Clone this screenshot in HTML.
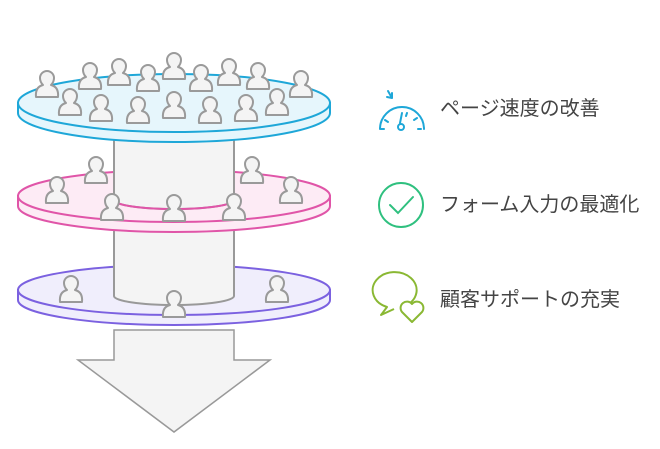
<!DOCTYPE html><html><head><meta charset="utf-8"><style>body{margin:0;background:#fff}svg{display:block}</style></head><body>
<svg width="660" height="449" viewBox="0 0 660 449" xmlns="http://www.w3.org/2000/svg">
<defs>
<g id="p"><path d="M-11,25 Q-12,15 -4,13 Q-7,10 -7,6 A7,7 0 1 1 7,6 Q7,10 4,13 Q12,15 11,25 Z" fill="#f4f4f4" stroke="#9a9a9a" stroke-width="2" stroke-linejoin="round"/></g>
</defs>
<path d="M114,330 L114,360 L78,360 L174,432 L270,360 L234,360 L234,330 Z" fill="#f4f4f4" stroke="#999" stroke-width="1.5"/>
<path d="M18,290 L18,300 A156,25 0 0 0 330,300 L330,290 Z" fill="#f0eefc" stroke="#7b61e0" stroke-width="2"/>
<ellipse cx="174" cy="290" rx="156" ry="25" fill="#f0eefc" stroke="#7b61e0" stroke-width="2"/>
<path d="M114,225 L114,296 A60,9 0 0 0 234,296 L234,225 Z" fill="#f4f4f4" stroke="#999" stroke-width="2"/>
<path d="M18,196 L18,206 A156,26 0 0 0 330,206 L330,196 Z" fill="#fdebf5" stroke="#e055a8" stroke-width="2"/>
<ellipse cx="174" cy="196" rx="156" ry="26" fill="#fdebf5" stroke="#e055a8" stroke-width="2"/>
<path d="M114,130 L114,200 A60,9 0 0 0 234,200 L234,130 Z" fill="#f4f4f4" stroke="#999" stroke-width="2"/>
<path d="M114,200 A60,9 0 0 0 234,200" fill="none" stroke="#e055a8" stroke-width="2"/>
<path d="M18,103 L18,113 A156,29 0 0 0 330,113 L330,103 Z" fill="#e6f6fc" stroke="#1ea7d8" stroke-width="2"/>
<ellipse cx="174" cy="103" rx="156" ry="29" fill="#e6f6fc" stroke="#1ea7d8" stroke-width="2"/>
<use href="#p" x="47" y="72"/><use href="#p" x="90" y="64"/><use href="#p" x="119" y="60"/><use href="#p" x="148" y="66"/><use href="#p" x="174" y="54"/><use href="#p" x="201" y="66"/><use href="#p" x="229" y="60"/><use href="#p" x="258" y="64"/><use href="#p" x="301" y="72"/>
<use href="#p" x="70" y="90"/><use href="#p" x="101" y="96"/><use href="#p" x="138" y="98"/><use href="#p" x="174" y="93"/><use href="#p" x="210" y="98"/><use href="#p" x="246" y="96"/><use href="#p" x="277" y="90"/>
<use href="#p" x="96" y="158"/><use href="#p" x="252" y="158"/><use href="#p" x="57" y="178"/><use href="#p" x="112" y="195"/><use href="#p" x="174" y="196"/><use href="#p" x="234" y="195"/><use href="#p" x="291" y="178"/>
<use href="#p" x="71" y="277"/><use href="#p" x="174" y="292"/><use href="#p" x="277" y="277"/>
<g fill="none" stroke="#1ea7d8" stroke-width="2" stroke-linecap="round">
<path d="M380,129 A22,22 0 0 1 424,129"/>
<path d="M388,91 L392,98 M392,98 L392,93 M392,98 L387,97"/>
<path d="M402,113 L400,123"/><circle cx="401" cy="127" r="3"/>
<path d="M385,120 L388,122 M381,129 L384,129 M418,129 L421,129 M414,120 L417,118 M407,113 L406,116"/>
</g>
<circle cx="401" cy="205" r="22" fill="none" stroke="#2fc07f" stroke-width="2"/>
<path d="M390,205 L398,213 L413,197" fill="none" stroke="#2fc07f" stroke-width="2" stroke-linecap="round"/>
<g fill="none" stroke="#8ab833" stroke-width="2" stroke-linejoin="round">
<path d="M405,306 A22,18 0 1 0 387,307 L381,315 L394,309"/>
<path d="M412,322 L402,312 A5,5 0 0 1 412,304 A5,5 0 0 1 422,312 Z" fill="#fff"/>
</g>
<g font-family="Liberation Sans, Noto Sans CJK JP, sans-serif" font-size="20" fill="#444">
<text x="440" y="115">ページ速度の改善</text>
<text x="440" y="211">フォーム入力の最適化</text>
<text x="440" y="306">顧客サポートの充実</text>
</g>
</svg>
</body></html>
